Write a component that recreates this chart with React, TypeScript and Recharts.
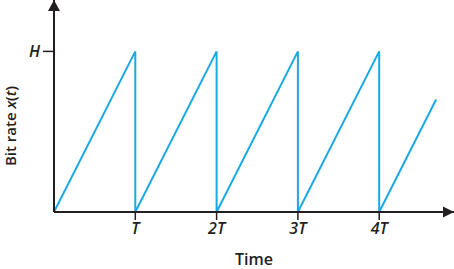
import { LineChart, Line, XAxis, YAxis, ReferenceDot } from "recharts";

// sawtooth bit rate, in units of T (time) and H (rate)
const times = [0, 1, 1, 2, 2, 3, 3, 4, 4, 4.7];
const rates = [0, 1, 0, 1, 0, 1, 0, 1, 0, 0.7];

const xTicks = [1, 2, 3, 4];
const xTickLabels = ["T", "2T", "3T", "4T"];
const yTicks = [1];
const yTickLabels = ["H"];

const X_MAX = 4.92;
const Y_MAX = 1.32;

const data = times.map((t, i) => ({ time: t, rate: rates[i] }));

const INK = "#231f20";
const BLUE = "#19a9e5";
const FONT = "'Open Sans', sans-serif";

const tickStyle = {
  fontFamily: FONT,
  fontSize: 16,
  fontStyle: "italic",
  fontWeight: 600,
  fill: INK,
};

const ArrowRight = (props: any) => {
  const { cx, cy } = props;
  return <polygon points={`${cx},${cy} ${cx - 11},${cy - 5.5} ${cx - 11},${cy + 5.5}`} fill={INK} />;
};

const ArrowUp = (props: any) => {
  const { cx, cy } = props;
  return <polygon points={`${cx},${cy} ${cx - 6},${cy + 11} ${cx + 6},${cy + 11}`} fill={INK} />;
};

const YLabel = () => (
  <text
    x={0}
    y={0}
    transform="translate(16, 126) rotate(-90)"
    textAnchor="middle"
    fontFamily={FONT}
    fontSize={15}
    fontWeight={600}
    fill={INK}
  >
    Bit rate <tspan fontStyle="italic">x</tspan>(<tspan fontStyle="italic">t</tspan>)
  </text>
);

export default function App() {
  return (
    <div style={{ position: "absolute", left: 0, top: 0, background: "#fff" }}>
      <LineChart width={454} height={269} data={data} margin={{ top: 0, right: 0, bottom: 0, left: 0 }}>
        <XAxis
          type="number"
          dataKey="time"
          domain={[0, X_MAX]}
          ticks={xTicks}
          allowDataOverflow
          height={57}
          tickSize={8}
          tickMargin={3}
          tickFormatter={(v: number) => xTickLabels[xTicks.indexOf(v)]}
          tick={tickStyle}
          axisLine={{ stroke: INK, strokeWidth: 2 }}
          tickLine={{ stroke: INK, strokeWidth: 1.5 }}
          label={{
            value: "Time",
            position: "insideBottom",
            offset: 4,
            style: { fontFamily: FONT, fontSize: 16, fontWeight: 600, fill: INK },
          }}
        />
        <YAxis
          type="number"
          domain={[0, Y_MAX]}
          ticks={yTicks}
          allowDataOverflow
          width={54}
          tickSize={11}
          tickMargin={3}
          tickFormatter={(v: number) => yTickLabels[yTicks.indexOf(v)]}
          tick={tickStyle}
          axisLine={{ stroke: INK, strokeWidth: 2 }}
          tickLine={{ stroke: INK, strokeWidth: 1.5 }}
          label={{ content: YLabel }}
        />
        <Line
          type="linear"
          dataKey="rate"
          stroke={BLUE}
          strokeWidth={2}
          dot={false}
          activeDot={false}
          isAnimationActive={false}
        />
        <ReferenceDot x={X_MAX} y={0} ifOverflow="visible" shape={ArrowRight} />
        <ReferenceDot x={0} y={Y_MAX} ifOverflow="visible" shape={ArrowUp} />
      </LineChart>
    </div>
  );
}
